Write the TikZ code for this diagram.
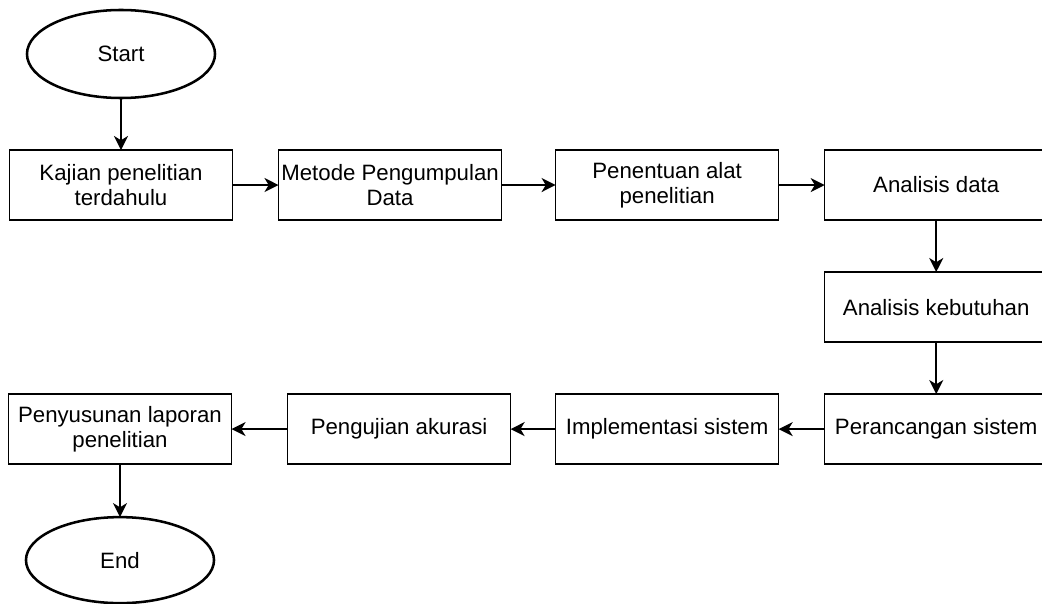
\documentclass[tikz,border=0pt]{standalone}
\usepackage{fontspec}
\setmainfont{Liberation Sans}
\usetikzlibrary{shapes.geometric,arrows.meta,positioning}

\begin{document}
\begin{tikzpicture}[
    x=0.025cm, y=-0.025cm,
    node distance=1.3cm and 1.15cm,
    stepbox/.style={rectangle, draw=black, line width=1.1pt, minimum width=5.575cm, minimum height=1.75cm, inner sep=0pt, outer sep=0pt, align=center, font=\fontsize{15.8}{17.8}\selectfont},
    terminal/.style={ellipse, draw=black, line width=1.8pt, minimum width=4.7cm, minimum height=2.2cm, inner sep=0pt, outer sep=0pt, font=\fontsize{15.8}{17.8}\selectfont},
    flow/.style={-{Stealth[length=10pt, width=10pt, inset=3pt]}, line width=1.1pt}
]
  \useasboundingbox (0,0) rectangle (1042,604);

  % top row, left to right
  \node[terminal] (start) at (121,54) {Start};
  \node[stepbox, below=of start] (kajian) {Kajian penelitian\\terdahulu};
  \node[stepbox, right=of kajian] (metode) {Metode Pengumpulan\\Data};
  \node[stepbox, right=1.35cm of metode] (alat) {Penentuan alat\\penelitian};
  \node[stepbox, right=of alat] (analisis) {Analisis data};

  % right column, downwards
  \node[stepbox, below=of analisis] (kebutuhan) {Analisis kebutuhan};
  \node[stepbox, below=of kebutuhan] (rancang) {Perancangan sistem};

  % bottom row, right to left
  \node[stepbox, left=of rancang] (implementasi) {Implementasi sistem};
  \node[stepbox, left=1.125cm of implementasi] (uji) {Pengujian akurasi};
  \node[stepbox, left=1.4cm of uji] (laporan) {Penyusunan laporan\\penelitian};
  \node[terminal, below=1.325cm of laporan, minimum height=2.15cm] (end) {End};

  \draw[flow] (start) -- (kajian);
  \draw[flow] (kajian) -- (metode);
  \draw[flow] (metode) -- (alat);
  \draw[flow] (alat) -- (analisis);
  \draw[flow] (analisis) -- (kebutuhan);
  \draw[flow] (kebutuhan) -- (rancang);
  \draw[flow] (rancang) -- (implementasi);
  \draw[flow] (implementasi) -- (uji);
  \draw[flow] (uji) -- (laporan);
  \draw[flow] (laporan) -- (end);
\end{tikzpicture}
\end{document}
